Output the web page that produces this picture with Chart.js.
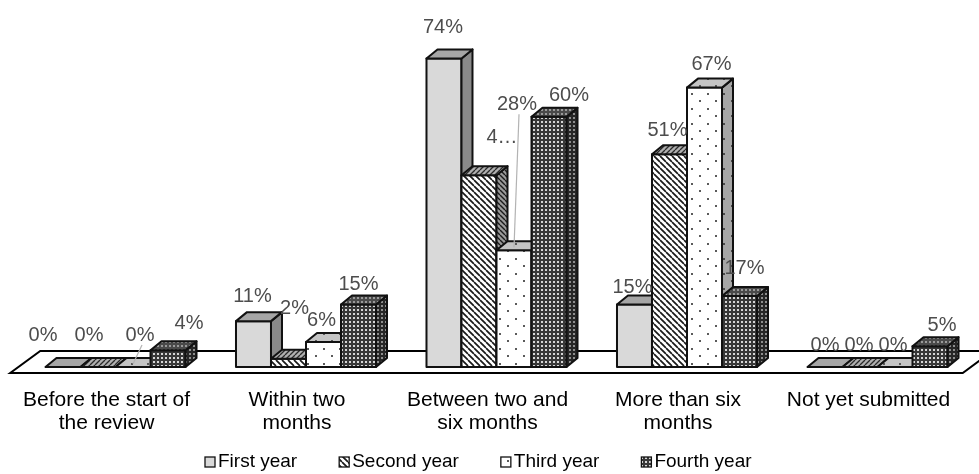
<!DOCTYPE html>
<html>
<head>
<meta charset="utf-8">
<script src="https://cdn.jsdelivr.net/npm/chart.js@4.4.1/dist/chart.umd.min.js"></script>
<style>
  html, body { margin: 0; padding: 0; background: #ffffff; }
  #wrap { width: 979px; height: 474px; }
</style>
</head>
<body>
<div id="wrap"><canvas id="c" width="979" height="474"></canvas></div>
<script>
// Categories (multi-line labels) and one value array per series (percent)
const categories = [
  ["Before the start of", "the review"],
  ["Within two", "months"],
  ["Between two and", "six months"],
  ["More than six", "months"],
  ["Not yet submitted"]
];
const seriesNames = ["First year", "Second year", "Third year", "Fourth year"];
const firstYear  = [0, 11, 74, 15, 0];
const secondYear = [0, 2, 46, 51, 0];
const thirdYear  = [0, 6, 28, 67, 0];
const fourthYear = [4, 15, 60, 17, 5];

const FONT = "'Liberation Sans', Arial, sans-serif";
const canvas = document.getElementById('c');
const ctx = canvas.getContext('2d');

// ---- fill patterns -------------------------------------------------------
function makePattern(w, h, paint) {
  const t = document.createElement('canvas');
  t.width = w; t.height = h;
  const g = t.getContext('2d');
  paint(g, w, h);
  return ctx.createPattern(t, 'repeat');
}
function stripes(bg, fg, p, lw, dir) {
  return makePattern(p, p, (g) => {
    g.fillStyle = bg; g.fillRect(0, 0, p, p);
    g.strokeStyle = fg; g.lineWidth = lw;
    g.beginPath();
    for (let k = -1; k <= 1; k++) {
      if (dir > 0) { g.moveTo(k * p, 0); g.lineTo(k * p + p, p); }
      else { g.moveTo(k * p, p); g.lineTo(k * p + p, 0); }
    }
    g.stroke();
  });
}
function dots(bg, fg) {
  return makePattern(16, 15, (g) => {
    g.fillStyle = bg; g.fillRect(0, 0, 16, 15);
    g.fillStyle = fg;
    g.fillRect(3, 3, 2, 2);
    g.fillRect(11, 10, 2, 2);
  });
}
function grid(bg, fg) {
  return makePattern(4, 4, (g) => {
    g.fillStyle = bg; g.fillRect(0, 0, 4, 4);
    g.fillStyle = fg; g.fillRect(1, 1, 2, 2);
  });
}

// front / side / top faces of each series' boxes
const faces = [
  { front: '#d9d9d9', side: '#8a8a8a', top: '#a6a6a6' },
  { front: stripes('#ffffff', '#1a1a1a', 6, 1.7, 1),
    side: stripes('#9a9a9a', '#1a1a1a', 5, 1.4, 1),
    top: stripes('#b0b0b0', '#2a2a2a', 5, 1.3, -1) },
  { front: dots('#ffffff', '#5a5a5a'),
    side: dots('#a6a6a6', '#4a4a4a'),
    top: dots('#c4c4c4', '#5a5a5a') },
  { front: grid('#383838', '#d6d6d6'),
    side: grid('#262626', '#8e8e8e'),
    top: grid('#4a4a4a', '#9a9a9a') }
];

// ---- 3D box rendering, floor, labels and legend --------------------------
const DEPTH = { dx: 11, dy: 9 };

function poly(c, pts, fill) {
  c.beginPath();
  c.moveTo(pts[0][0], pts[0][1]);
  for (let i = 1; i < pts.length; i++) c.lineTo(pts[i][0], pts[i][1]);
  c.closePath();
  c.fillStyle = fill;
  c.fill();
  c.stroke();
}

const boxes3d = {
  id: 'boxes3d',
  beforeDatasetsDraw(chart) {
    const c = chart.ctx, a = chart.chartArea;
    const base = chart.scales.y.getPixelForValue(0);
    c.save();
    c.lineWidth = 2;
    c.strokeStyle = '#000';
    c.lineJoin = 'miter';
    poly(c, [[a.left - 10, base + 6], [a.right - 10, base + 6],
             [a.right + 20, base - 16], [a.left + 20, base - 16]], '#ffffff');
    c.restore();
  },
  afterDatasetsDraw(chart) {
    const c = chart.ctx;
    const {dx, dy} = DEPTH;
    c.save();
    c.lineWidth = 2;
    c.strokeStyle = '#111';
    c.lineJoin = 'round';
    const n = chart.data.labels.length;
    for (let i = 0; i < n; i++) {
      chart.data.datasets.forEach((ds, d) => {
        const el = chart.getDatasetMeta(d).data[i];
        const p = el.getProps(['x', 'y', 'base', 'width'], true);
        const L = p.x - p.width / 2, R = p.x + p.width / 2, T = p.y, B = p.base;
        const f = faces[d];
        if (B - T > 0.5) {
          poly(c, [[L, T], [R, T], [R, B], [L, B]], f.front);
          poly(c, [[R, T], [R + dx, T - dy], [R + dx, B - dy], [R, B]], f.side);
        }
        poly(c, [[L, T], [L + dx, T - dy], [R + dx, T - dy], [R, T]], f.top);
      });
    }
    c.restore();
  },
  afterDraw(chart, args, opts) {
    const c = chart.ctx;
    const base = chart.scales.y.getPixelForValue(0);
    c.save();

    // value labels
    c.font = '20px ' + FONT;
    c.textAlign = 'center';
    c.textBaseline = 'middle';
    chart.data.datasets.forEach((ds, d) => {
      const meta = chart.getDatasetMeta(d);
      ds.data.forEach((v, i) => {
        const el = meta.data[i];
        const off = opts.offsets[d][i];
        const lx = el.x + off[0], ly = el.y + off[1];
        let text = v + '%';
        const cut = opts.truncate[d + '-' + i];
        if (cut) text = text.slice(0, cut) + '\u2026';
        if (opts.leaders.some(q => q[0] === d && q[1] === i)) {
          c.strokeStyle = '#b3b3b3';
          c.lineWidth = 1.2;
          c.beginPath();
          c.moveTo(lx + 2, ly + 10);
          c.lineTo(el.x, el.y - 3);
          c.stroke();
        }
        c.fillStyle = '#4d4d4d';
        c.fillText(text, lx, ly);
      });
    });

    // category labels under each cluster
    c.font = '21px ' + FONT;
    c.fillStyle = '#000';
    const xs = chart.scales.x;
    chart.data.labels.forEach((lab, i) => {
      const cx = xs.getPixelForValue(i) - 9;
      const lines = Array.isArray(lab) ? lab : [lab];
      lines.forEach((t, k) => c.fillText(t, cx, base + 33 + k * 23));
    });

    // legend row
    c.font = '19px ' + FONT;
    c.textAlign = 'left';
    let x = 205;
    const ly = 462;
    chart.data.datasets.forEach((ds, d) => {
      c.fillStyle = faces[d].front;
      c.strokeStyle = '#111';
      c.lineWidth = 1.3;
      c.fillRect(x, ly - 5, 10, 10);
      c.strokeRect(x, ly - 5, 10, 10);
      c.fillStyle = '#000';
      c.fillText(ds.label, x + 13, ly);
      x += 13 + c.measureText(ds.label).width + 42;
    });
    c.restore();
  }
};

const seriesValues = [firstYear, secondYear, thirdYear, fourthYear];

new Chart(ctx, {
  type: 'bar',
  data: {
    labels: categories,
    datasets: seriesValues.map((vals, d) => ({
      label: seriesNames[d],
      data: vals,
      backgroundColor: faces[d].front,
      borderColor: '#111',
      borderWidth: 1.5,
      borderSkipped: false,
      categoryPercentage: 0.735,
      barPercentage: 1.0
    }))
  },
  options: {
    responsive: false,
    devicePixelRatio: 1,
    animation: false,
    layout: { padding: { left: 20.25, right: 6.25, top: 33.4, bottom: 107 } },
    scales: {
      x: { display: false },
      y: { display: false, min: 0, max: 80 }
    },
    plugins: {
      legend: { display: false },
      tooltip: { enabled: false },
      boxes3d: {
        // label centre relative to the top-centre of each box's front face
        offsets: [
          [[-20, -32], [-1, -25], [-1, -31], [-2, -17], [0, -22]],
          [[-9, -32], [6, -50], [23, -38], [-2, -24], [-1, -22]],
          [[7, -32], [-2, -21], [3, -146], [7, -23], [-2, -22]],
          [[21, -27], [0, -20], [20, -21], [5, -28], [12, -21]]
        ],
        truncate: { '1-2': 1 },
        leaders: [[2, 0], [2, 2]]
      }
    }
  },
  plugins: [boxes3d]
});
</script>
</body>
</html>
